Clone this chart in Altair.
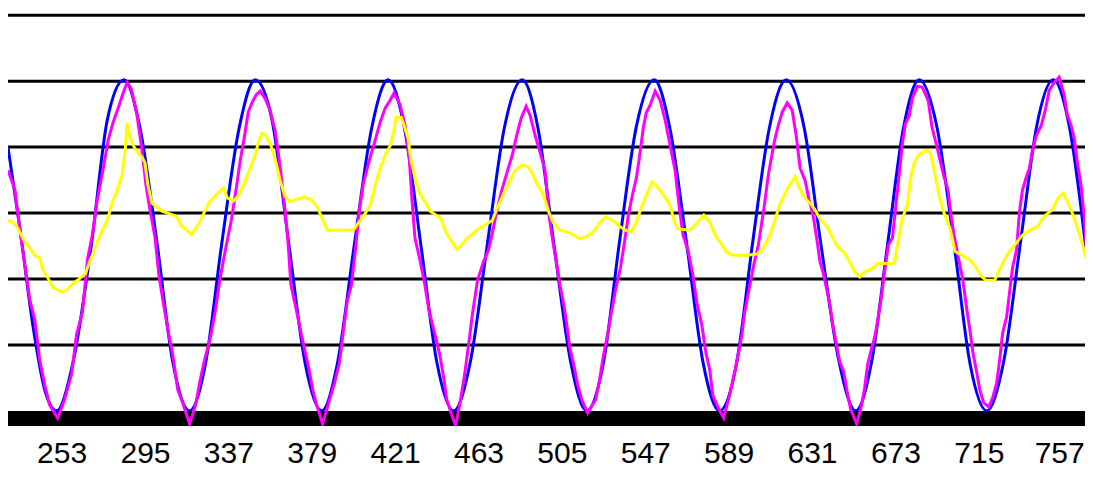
import altair as alt
import pandas as pd

# ---------------- data ----------------
x_ticks = [253, 295, 337, 379, 421, 463, 505, 547, 589, 631, 673, 715, 757]
grid_levels = [10, 20, 30, 40, 50, 60]

blue_x = [226, 232, 238.5, 244.5, 250.5, 259, 268, 276, 284.5, 292.5, 301, 309,
          317.5, 325.5, 333.5, 342.5, 350.5, 359, 367.5, 375.5, 384, 392, 400.5,
          409, 417.5, 425.5, 434, 442, 450.5, 459, 467.5, 476, 485, 493, 501,
          509.5, 517.5, 526, 534, 542.5, 551.5, 559.5, 568, 576, 584.5, 593, 601,
          609.5, 618, 627, 635.5, 644.5, 653, 661, 669, 677, 685, 694, 702.5,
          710.5, 719, 727.5, 736.5, 744, 752.5, 760.5, 769.5]
blue_y = [40.0, 27.7, 13.0, 3.2, 0.0, 7.7, 25.2, 44.1, 50.2, 42.9, 25.6, 7.4,
          0.0, 7.2, 25.0, 43.0, 50.2, 44.1, 25.2, 7.5, 0.0, 7.3, 25.3, 42.6,
          50.2, 43.2, 25.1, 7.4, 0.0, 7.6, 25.4, 42.9, 50.2, 42.8, 25.2, 7.3,
          0.0, 7.4, 25.6, 43.1, 50.2, 42.7, 25.0, 7.5, 0.0, 7.2, 25.3, 42.9,
          50.2, 43.0, 25.2, 7.6, 0.0, 7.4, 25.1, 42.8, 50.2, 42.9, 25.4, 7.3,
          0.0, 7.4, 26.7, 42.9, 50.2, 43.3, 23.2]

magenta_x = [
    226, 229.5, 232, 234.5, 237, 239.5, 242, 244.5, 247, 251,
    254.5, 258, 260.5, 263.5, 266, 268.5, 271, 274, 276.5, 279, 281.5, 284, 286,
    288, 291, 293.5, 295.5, 297.5, 300, 302, 304, 306.5, 309, 311.5, 314, 317.5,
    320.5, 322.5, 325, 328, 330.5, 332.5, 335.5, 338.5, 341, 343, 345, 347, 349, 351, 353,
    355.5, 358, 360.5, 363, 365.5, 367, 368.5, 371, 373.5, 375.5, 377.5, 379.5, 381.5, 384.5,
    388, 390.5, 393, 395, 397, 399, 401, 403, 405, 408, 411, 413.5, 416, 418.5, 420.5,
    423.5, 426, 428, 429.5, 431, 433.5, 436, 438, 440.5, 443.5, 445.5, 447, 449.5, 451.5,
    454, 456, 458, 460, 462.5, 465.5, 468, 470, 472, 474.5, 477, 480, 482.5, 484.5, 487,
    489, 491.5, 494, 496.5, 498.5, 500.5, 502.5, 504, 506, 507.5, 509, 511, 513, 515, 518,
    522, 524, 526, 528, 530, 532, 534.5, 536.5, 538.5, 540.5, 542.5, 544, 546, 547.5, 549.5, 552,
    554.5, 557, 559.5, 562, 564, 566, 568.5, 571, 573, 575.5, 577.5, 579.5, 581, 583.5, 586.5,
    589.5, 592, 594, 595.5, 597, 599, 600.5, 602, 604, 607, 609, 610.5, 612, 614, 616, 618.5,
    621, 623, 625, 627.5, 629.5, 631.5, 633.5, 635, 636.5, 638.5, 640, 641.5, 643.5, 645, 647, 648.5, 650.5, 653.5,
    656, 657.5, 659, 661, 662.5, 664, 666, 667.5, 669.5, 671.5, 673, 675, 676.5, 678, 680, 681.5, 684, 686.5,
    689.5, 691.5, 693.5, 695.5, 697.5, 699.5, 701, 702.5, 704.5, 707, 709, 710.5, 712, 714, 715.5, 717.5, 720,
    722, 724, 725.5, 727, 729, 730.5, 732, 734, 735.5, 737, 739, 740.5, 742, 744, 746.5, 748.5, 750.5, 753, 755.5,
    758, 759.5, 761.5, 763, 764.5, 766.5, 768, 769.5]
magenta_y = [
    36.5, 33.5, 27.4, 22.1, 16.8, 13.8, 7.7, 3.9, 0.9, -1.1,
    1.7, 5.5, 11.5, 15.0, 22.9, 26.7, 32.0, 36.8, 41.1, 43.8, 45.9, 48.2, 49.8,
    48.9, 44.8, 39.5, 34.2, 30.5, 26.4, 20.6, 16.8, 12.3, 8.5, 3.2, 1.2, -2.0,
    0.9, 4.2, 7.7, 11.2, 15.3, 19.5, 24.4, 28.9, 33.8, 38.0, 41.4, 45.3, 46.8, 47.9, 48.5,
    47.4, 45.6, 42.6, 37.3, 30.5, 25.9, 19.1, 15.6, 12.0, 9.2, 6.5, 3.2, 0.9, -2.0,
    1.7, 4.2, 7.4, 12.3, 16.8, 19.1, 24.4, 30.5, 34.5, 38.0, 41.1, 43.8, 45.9, 47.1, 48.2,
    46.4, 43.3, 38.8, 32.0, 26.2, 22.9, 19.1, 15.3, 12.3, 8.5, 5.0, 1.7, -0.6, -2.3,
    1.7, 5.5, 10.0, 14.8, 19.8, 22.6, 24.4, 27.0, 30.0, 33.2, 35.8, 38.8, 42.1, 44.4, 46.2,
    44.8, 41.8, 39.2, 36.5, 29.7, 25.6, 22.1, 19.1, 16.1, 13.0, 9.5, 7.0, 3.9, 1.7, -0.3,
    1.7, 4.7, 8.5, 11.5, 15.0, 18.3, 21.7, 25.5, 29.7, 32.7, 35.3, 38.3, 42.9, 45.2, 46.4, 48.5,
    47.1, 44.1, 40.3, 36.5, 31.2, 26.7, 24.4, 20.6, 16.4, 13.0, 8.9, 6.2, 2.4, 0.6, -1.1,
    2.4, 5.8, 8.9, 11.2, 14.8, 18.0, 20.3, 22.6, 25.2, 31.2, 35.8, 38.3, 40.8, 43.3, 45.3, 46.7,
    45.6, 41.8, 36.8, 35.0, 32.0, 29.7, 25.9, 22.6, 21.1, 18.3, 16.1, 13.0, 9.7, 7.4, 5.9, 3.2, 0.2, -2.0,
    0.9, 3.5, 7.0, 9.5, 11.1, 13.5, 17.4, 21.1, 25.2, 26.2, 30.5, 36.1, 40.5, 43.5, 44.8, 47.4, 49.2, 49.1,
    47.1, 42.9, 40.6, 38.0, 35.5, 33.5, 29.7, 26.7, 23.6, 19.8, 15.3, 12.3, 8.9, 5.8, 3.2, 1.2, 0.6,
    2.0, 4.2, 7.7, 11.8, 14.2, 18.0, 21.7, 24.4, 30.2, 33.5, 35.5, 36.8, 39.5, 41.8, 43.3, 45.6, 48.6, 49.8, 50.6,
    47.9, 45.0, 43.3, 41.5, 38.0, 34.2, 29.7, 23.2]

yellow_x = [226, 228.5, 231, 234.5, 237, 239.5, 242, 243.5, 246, 248.5,
            251, 253.5, 255.5, 258, 261, 265, 267.5, 270, 272.5, 274,
            276, 277.5, 279, 281, 283.5, 285, 286, 287.5, 289.5, 291.5,
            293.5, 295, 296.5, 298.5, 301, 303.5, 306.5, 311, 313.5, 316,
            318.5, 320.5, 322.5, 325, 327.5, 330.5, 334.5, 336.5, 339.5, 342,
            345, 348, 350.5, 352.5, 354, 356, 358.5, 361, 363, 365.5,
            368, 371.5, 375, 379, 382, 385, 387, 400, 402, 405,
            408.5, 411, 413.5, 416, 418.5, 420.5, 421.5, 424, 425.5, 427.5,
            429, 431.5, 433.5, 436.5, 438.5, 441.5, 444, 446.5, 449, 452,
            454, 456.5, 460.5, 463.5, 467, 470, 472, 474.5, 476.5, 479,
            481.5, 485, 488, 490.5, 493, 495.5, 498, 500.5, 504, 509,
            514, 518, 521.5, 524, 527, 531, 534, 537, 540, 542.5,
            545, 547.5, 550.5, 553.5, 556.5, 559.5, 561.5, 563.5, 569.5, 572.5,
            576.5, 579.5, 582.5, 585.5, 587.5, 591, 598.5, 603.5, 606.5, 609.5,
            612, 614.5, 617.5, 620, 622.5, 624.5, 627, 630, 632.5, 635,
            638.5, 641.5, 644, 647, 650, 652.5, 655, 657.5, 661, 664,
            672.5, 674.5, 676.5, 679, 680.5, 682.5, 685, 688.5, 690.5, 692.5,
            695, 697.5, 700.5, 703, 707, 710.5, 713.5, 716, 718.5, 723,
            725, 727.5, 730.5, 733.5, 736.5, 740.5, 744.5, 748, 752, 755,
            757.5, 760, 762.5, 765, 768, 769.5]
yellow_y = [28.9, 28.6, 27.7, 25.6, 24.7, 23.6, 23.2, 21.4, 20.2, 18.8,
            18.3, 18.0, 18.3, 19.1, 19.8, 20.8, 22.9, 24.8, 26.7, 27.7,
            28.9, 30.5, 32.0, 33.5, 35.8, 39.5, 43.6, 41.4, 40.0, 39.2,
            38.5, 37.6, 34.2, 31.5, 30.9, 30.3, 30.0, 29.5, 28.0, 27.4,
            26.7, 27.7, 28.6, 30.2, 31.7, 32.7, 33.8, 32.3, 31.8, 32.6,
            34.5, 36.8, 38.8, 41.1, 42.1, 41.7, 40.2, 37.7, 35.0, 32.6,
            31.7, 32.1, 32.4, 32.0, 30.8, 28.6, 27.4, 27.4, 28.3, 29.5,
            31.2, 34.2, 36.8, 38.8, 40.2, 42.6, 44.5, 44.5, 43.3, 41.4,
            38.0, 34.7, 32.9, 31.5, 30.3, 29.7, 29.2, 27.1, 25.9, 24.5,
            25.0, 25.9, 27.0, 27.7, 28.3, 28.9, 30.5, 32.1, 33.5, 35.0,
            36.5, 37.3, 37.0, 35.8, 34.1, 32.9, 30.5, 28.6, 27.4, 27.0,
            26.1, 26.5, 27.4, 28.5, 29.4, 28.8, 28.0, 27.4, 27.1, 28.6,
            30.8, 32.7, 34.7, 33.8, 32.6, 31.2, 28.9, 27.6, 27.4, 28.3,
            29.7, 28.6, 26.5, 25.3, 24.2, 23.6, 23.6, 23.8, 24.7, 26.4,
            28.6, 31.1, 33.0, 34.4, 35.5, 33.9, 32.4, 31.5, 30.5, 29.1,
            28.0, 26.2, 24.8, 24.1, 22.6, 21.1, 20.3, 21.1, 21.5, 22.3,
            22.4, 25.9, 29.2, 31.2, 35.0, 37.7, 38.9, 39.5, 39.2, 36.5,
            32.7, 30.0, 27.7, 24.2, 23.5, 22.9, 21.8, 20.5, 19.8, 19.8,
            21.1, 22.7, 24.2, 25.3, 26.5, 27.4, 27.9, 29.5, 30.5, 32.3,
            33.0, 31.5, 29.7, 27.4, 24.4, 22.6]

# ---------------- chart ----------------
X_DOMAIN = [226, 768.5]
Y_DOMAIN = [-2.3, 61.1]
BASE_BAND = [-1.15]

xs = alt.Scale(domain=X_DOMAIN, nice=False, zero=False)
ys = alt.Scale(domain=Y_DOMAIN, nice=False, zero=False)

FONT = "Liberation Sans"

grid = alt.Chart(pd.DataFrame({"level": grid_levels})).mark_rule(
    color="black", strokeWidth=3
).encode(y=alt.Y("level:Q", scale=ys, axis=None))

base_bar = alt.Chart(pd.DataFrame({"level": BASE_BAND})).mark_rule(
    color="black", strokeWidth=15
).encode(y=alt.Y("level:Q", scale=ys, axis=None))


def series(xv, yv, color, interp):
    df = pd.DataFrame({"x": xv, "y": yv})
    return alt.Chart(df).mark_line(
        color=color, strokeWidth=3, interpolate=interp, clip=True
    ).encode(
        x=alt.X("x:Q", scale=xs,
                axis=alt.Axis(values=x_ticks, grid=False, domain=False,
                              ticks=False, tickSize=0, labelPadding=12,
                              labelFont=FONT, labelFontSize=30,
                              labelColor="black", title=None,
                              labelOverlap=False, format="d",
                              labelOffset={"condition": {"test": "datum.value === 757",
                                                         "value": -3},
                                           "value": 0})),
        y=alt.Y("y:Q", scale=ys, axis=None),
    )


blue = series(blue_x, blue_y, "#0000FF", "monotone")
magenta = series(magenta_x, magenta_y, "#FF00FF", "linear")
yellow = series(yellow_x, yellow_y, "#FFFF00", "linear")

chart = alt.layer(grid, base_bar, blue, magenta, yellow).properties(
    width=1077, height=418,
    autosize=alt.AutoSizeParams(type="none"),
    padding={"left": 0, "top": 0, "right": 0, "bottom": 43},
    background="white",
).configure_view(strokeWidth=0)

chart.save("out.html", embed_options={"renderer": "svg", "actions": False})
